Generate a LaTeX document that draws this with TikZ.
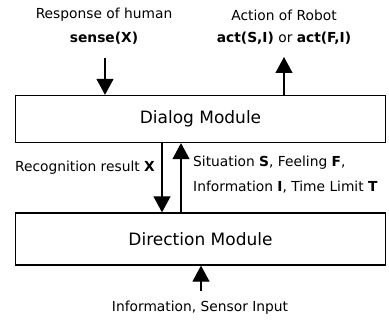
\documentclass[tikz,border=0pt]{standalone}
\usepackage{fontspec}
\setmainfont{DejaVu Sans}
\usetikzlibrary{arrows.meta}
\begin{document}
\begin{tikzpicture}[x=1pt,y=-1pt,
  module/.style={draw,line width=1.3pt,minimum width=370pt,inner sep=0pt,font=\fontsize{17}{20}\selectfont},
  lbl/.style={inner sep=0pt,font=\fontsize{13.8}{16}\selectfont},
  flow/.style={line width=1.2pt,-{Triangle[length=16pt,width=17pt]}}]
  \useasboundingbox (0,0) rectangle (389,323);
  % modules
  \node[module,minimum height=47pt] (dialog) at (200.5,119) {Dialog Module};
  \node[module,minimum height=52pt] (direction) at (200.5,239) {Direction Module};
  % labels above the dialog module
  \node[lbl] (resp) at (104,15) {Response of human};
  \node[lbl] (sense) at (104,38) {\textbf{sense(X)}};
  \node[lbl] (action) at (284,15) {Action of Robot};
  \node[lbl] (act) at (284,38) {\textbf{act(S,I)} or \textbf{act(F,I)}};
  \coordinate (sensein) at (105,58);
  \coordinate (actout) at (284,57);
  % labels between the modules
  \node[lbl,anchor=east] (recog) at (155,168) {Recognition result \textbf{X}};
  \node[lbl,anchor=west] (sit) at (193,163) {Situation \textbf{S}, Feeling \textbf{F},};
  \node[lbl,anchor=west] (info) at (193,187) {Information \textbf{I}, Time Limit \textbf{T}};
  % label below the direction module
  \node[lbl] (sensor) at (200,308) {Information, Sensor Input};
  \coordinate (sensorout) at (201,291);
  % connectors
  \draw[flow] (sensein) -- (sensein |- dialog.north);
  \draw[flow] (actout |- dialog.north) -- (actout);
  \draw[flow] (dialog.south -| 162,0) -- (direction.north -| 162,0);
  \draw[flow] (direction.north -| 181,0) -- (dialog.south -| 181,0);
  \draw[flow] (sensorout) -- (sensorout |- direction.south);
\end{tikzpicture}
\end{document}
